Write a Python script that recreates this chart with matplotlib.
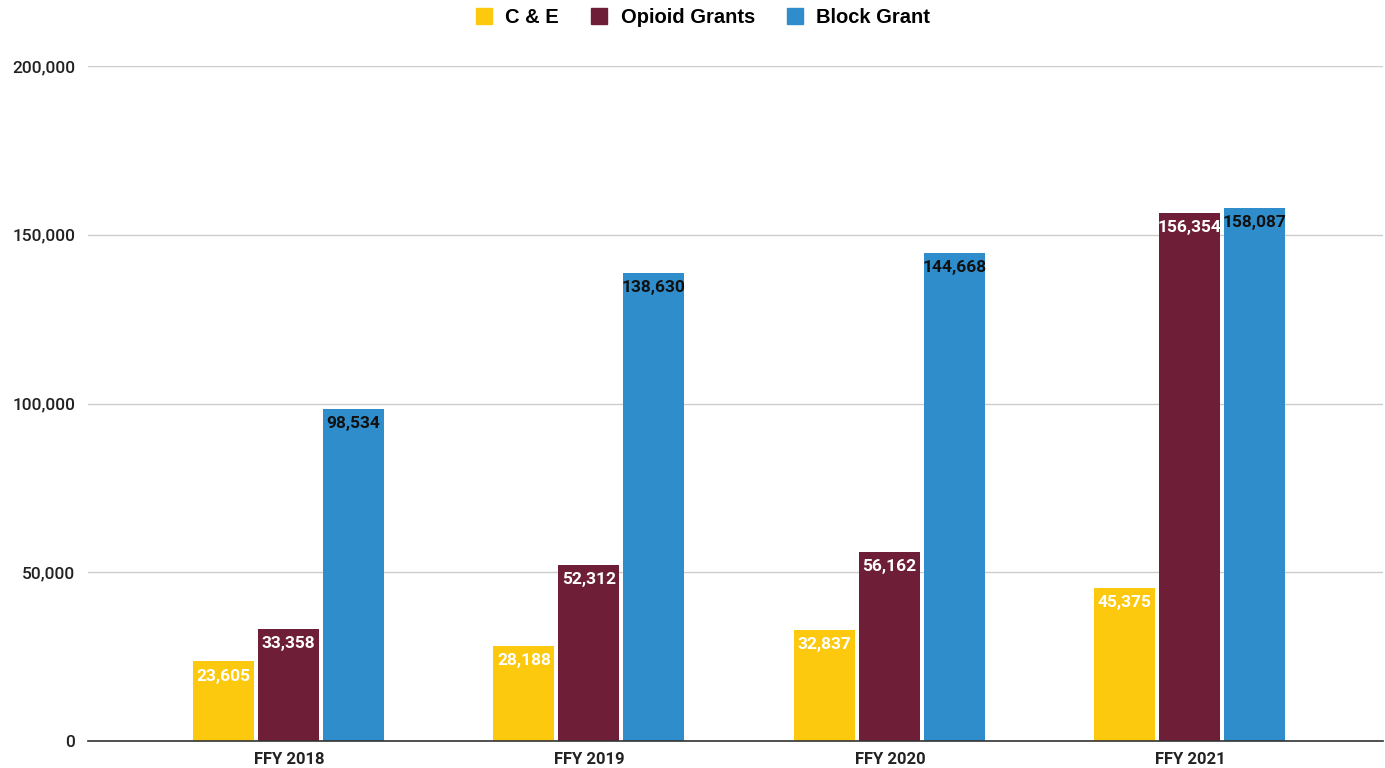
import matplotlib
matplotlib.use("Agg")
import matplotlib.pyplot as plt
from matplotlib.ticker import FuncFormatter, MultipleLocator
from matplotlib.lines import Line2D
import numpy as np

plt.rcParams['font.family'] = ['Roboto', 'DejaVu Sans']

years = ["FFY 2018", "FFY 2019", "FFY 2020", "FFY 2021"]
series_names = ["C & E", "Opioid Grants", "Block Grant"]
c_and_e = [23605, 28188, 32837, 45375]
opioid_grants = [33358, 52312, 56162, 156354]
block_grant = [98534, 138630, 144668, 158087]

colors = ["#FCC90F", "#6E1F37", "#2F8DCB"]
label_colors = ["white", "white", "#111111"]

fig = plt.figure(figsize=(13.85, 7.68), dpi=100)
ax = fig.add_axes([0.0635, 0.035, 0.935, 0.879])

x = np.arange(len(years))
width = 0.203
offsets = [-0.219, -0.003, 0.213]

for vals, name, col, lcol, off in zip([c_and_e, opioid_grants, block_grant],
                                      series_names, colors, label_colors, offsets):
    bars = ax.bar(x + off, vals, width, color=col, label=name, zorder=3)
    for b, v in zip(bars, vals):
        ax.annotate(f"{v:,}", (b.get_x() + b.get_width() / 2, v),
                    xytext=(0, -10.5), textcoords="offset points",
                    ha="center", va="center", fontsize=12.5, fontweight="bold",
                    color=lcol, zorder=4)

ax.set_ylim(0, 200000)
ax.set_xlim(-0.67, 3.64)
ax.yaxis.set_major_locator(MultipleLocator(50000))
ax.yaxis.set_major_formatter(FuncFormatter(lambda v, p: f"{int(v):,}"))
ax.grid(axis="y", color="#cccccc", linewidth=1, zorder=0)
ax.set_xticks(x)
ax.set_xticklabels(years, fontsize=12, fontweight="bold", color="#222222")
ax.tick_params(axis="x", length=0, pad=8)
ax.tick_params(axis="y", length=0, pad=9, labelsize=12.5, labelcolor="#222222")
for lbl in ax.get_yticklabels():
    lbl.set_fontweight("medium")

for side in ["top", "right", "left"]:
    ax.spines[side].set_visible(False)
ax.spines["bottom"].set_color("#333333")
ax.spines["bottom"].set_linewidth(1.2)
ax.spines["bottom"].set_zorder(5)

handles = [Line2D([0], [0], marker="s", linestyle="", markersize=11,
                  markerfacecolor=c, markeredgecolor=c) for c in colors]
fig.legend(handles, series_names, loc="center", bbox_to_anchor=(0.507, 0.977),
           ncol=3, frameon=False, handletextpad=0.55, columnspacing=1.5,
           handlelength=1.0,
           prop={"family": ["Liberation Sans", "DejaVu Sans"],
                 "weight": "bold", "size": 14.5})

fig.savefig("out.png", dpi=100, facecolor="white")
